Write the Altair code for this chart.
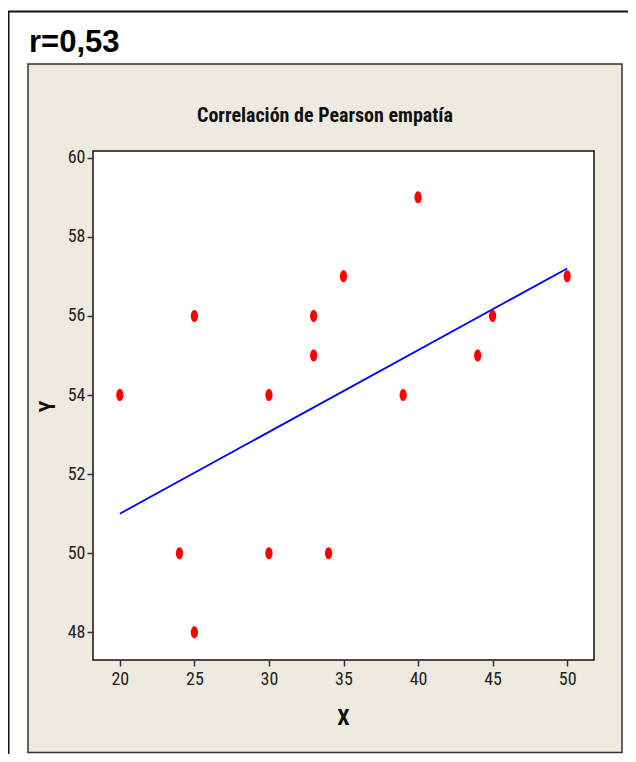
import altair as alt
import pandas as pd

# Data
x_vals = [20, 24, 25, 25, 30, 30, 33, 33, 34, 35, 39, 40, 44, 45, 50]
y_vals = [54, 50, 56, 48, 54, 50, 56, 55, 50, 57, 54, 59, 55, 56, 57]
fit_x = [20, 50]
fit_y = [51.0, 57.2]
x_ticks = [20, 25, 30, 35, 40, 45, 50]
y_ticks = [48, 50, 52, 54, 56, 58, 60]
chart_title = "Correlación de Pearson empatía"
r_label = "r=0,53"

W, H = 501, 509
NARROW = "Liberation Sans Narrow, Roboto Condensed, Lato, sans-serif"
BEIGE = "#EEEAE0"

pts = pd.DataFrame({"X": x_vals, "Y": y_vals})
fit = pd.DataFrame({"X": fit_x, "Y": fit_y})
one = pd.DataFrame({"k": [0]})

xscale = alt.Scale(domain=[18.2, 51.8], nice=False, zero=False)
yscale = alt.Scale(domain=[47.3, 60.17], nice=False, zero=False)

xaxis = alt.Axis(values=x_ticks, grid=False, domain=False, tickSize=6, tickWidth=1.5,
                 tickColor="#333333", labelFont=NARROW, labelFontSize=18,
                 labelColor="#222222", labelPadding=4, title="X",
                 titleFont=NARROW, titleFontSize=22, titleFontWeight="bold",
                 titleColor="#111111", titleX=250, titleY=64, titleBaseline="alphabetic",
                 zindex=1)
yaxis = alt.Axis(values=y_ticks, grid=False, domain=False, tickSize=6, tickWidth=1.5,
                 tickColor="#333333", labelFont=NARROW, labelFontSize=18,
                 labelColor="#222222", labelPadding=2, title="Y",
                 titleFont=NARROW, titleFontSize=22, titleFontWeight="bold",
                 titleColor="#111111", titleX=-46, titleY=255, titleBaseline="middle",
                 titleAngle=270, zindex=1)

outer = alt.Chart(one).mark_rect(fill="white", stroke="#111111", strokeWidth=2).encode(
    x=alt.value(-84.5), x2=alt.value(700), y=alt.value(-139.5), y2=alt.value(800))
panel = alt.Chart(one).mark_rect(fill=BEIGE, stroke="#333333", strokeWidth=1.5).encode(
    x=alt.value(-65), x2=alt.value(529), y=alt.value(-87), y2=alt.value(601.5))
plotbg = alt.Chart(one).mark_rect(fill="white", stroke="#111111", strokeWidth=1.5).encode(
    x=alt.value(0), x2=alt.value(W), y=alt.value(0), y2=alt.value(H))

line = alt.Chart(fit).mark_line(color="#0000FF", strokeWidth=1.8).encode(
    x=alt.X("X:Q", scale=xscale, axis=xaxis),
    y=alt.Y("Y:Q", scale=yscale, axis=yaxis))

ellipse = "M0,-1A0.6,1 0 1,1 0,1A0.6,1 0 1,1 0,-1Z"
points = alt.Chart(pts).mark_point(shape=ellipse, filled=True, fill="#FF0000",
                                   opacity=1, size=144, strokeWidth=0).encode(
    x=alt.X("X:Q", scale=xscale), y=alt.Y("Y:Q", scale=yscale))

title_txt = alt.Chart(one).mark_text(font=NARROW, fontSize=20, fontWeight="bold",
                                     color="#111111", align="center",
                                     baseline="alphabetic").encode(
    x=alt.value(232), y=alt.value(-29), text=alt.value(chart_title))
r_txt = alt.Chart(one).mark_text(font="Liberation Sans, Arial, sans-serif", fontSize=31,
                                 fontWeight="bold", color="#000000", align="left",
                                 baseline="alphabetic").encode(
    x=alt.value(-64), y=alt.value(-99), text=alt.value(r_label))

chart = alt.layer(outer, panel, plotbg, line, points, title_txt, r_txt).properties(
    width=W, height=H,
    autosize=alt.AutoSizeParams(type="none"),
    padding={"left": 85, "top": 143, "right": 34, "bottom": 94},
    background="white",
).configure_view(strokeWidth=0)

chart.save("out.html", embed_options={"renderer": "svg", "actions": False})
